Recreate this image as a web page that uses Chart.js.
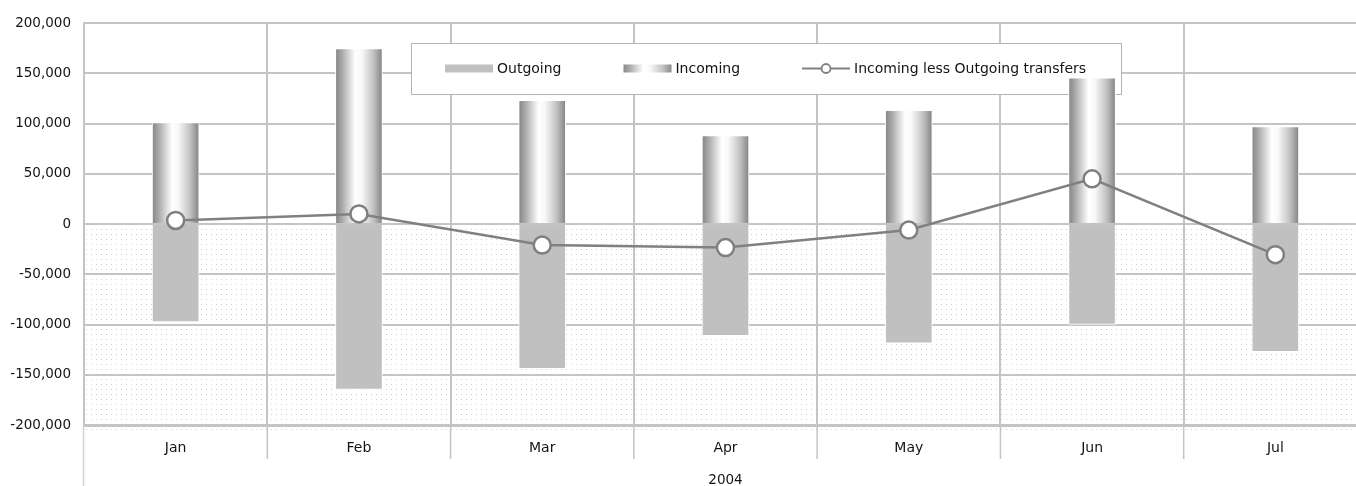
<!DOCTYPE html>
<html>
<head>
<meta charset="utf-8">
<title>Transfers 2004</title>
<script src="https://cdn.jsdelivr.net/npm/chart.js@4/dist/chart.umd.min.js"></script>
<style>
  html, body { margin: 0; padding: 0; background: #ffffff; overflow: hidden; width: 1356px; height: 486px; }
  canvas { display: block; }
</style>
</head>
<body>
<canvas id="chart" width="1378" height="486"></canvas>
<script>
// Monthly transfer figures, 2004
const months = ['Jan', 'Feb', 'Mar', 'Apr', 'May', 'Jun', 'Jul'];
const yearLabel = '2004';
const outgoing = [-97500, -164500, -144000, -111000, -118500, -100000, -127000];
const incoming = [101000, 174500, 123000, 88000, 113000, 145500, 97000];
const netTransfers = [3500, 10000, -21000, -23500, -6000, 45000, -30500];
const yTickValues = [-200000, -150000, -100000, -50000, 0, 50000, 100000, 150000, 200000];

const FONT = 'DejaVu Sans';
const GRID = '#c4c4c4';
const TEXT = '#141414';
const BAR_W = 47;

function cylinderGradient(ctx, x0, x1) {
  const g = ctx.createLinearGradient(x0, 0, x1, 0);
  g.addColorStop(0, '#8a8a8a');
  g.addColorStop(0.12, '#a8a8a8');
  g.addColorStop(0.42, '#ffffff');
  g.addColorStop(0.56, '#f8f8f8');
  g.addColorStop(0.82, '#c2c2c2');
  g.addColorStop(1, '#8a8a8a');
  return g;
}

// Dotted fill for the area below zero
const negativeArea = {
  id: 'negativeArea',
  beforeDraw(chart) {
    const { ctx, chartArea, scales } = chart;
    const zeroY = scales.y.getPixelForValue(0);
    ctx.save();
    ctx.fillStyle = '#d2d2d2';
    for (let y = Math.round(zeroY) + 5; y <= chartArea.bottom + 5; y += 5) {
      for (let x = chartArea.left + 2; x < chartArea.right; x += 5) {
        ctx.fillRect(x, y, 1, 1);
      }
    }
    ctx.restore();
  }
};

// Category separators below the axis and the outer frame of the year band
const axisBands = {
  id: 'axisBands',
  afterDraw(chart) {
    const { ctx, chartArea, scales } = chart;
    const xs = scales.x;
    ctx.save();
    ctx.strokeStyle = GRID;
    ctx.lineWidth = 1.5;
    for (let i = 1; i < months.length; i++) {
      const px = (xs.getPixelForValue(i - 1) + xs.getPixelForValue(i)) / 2;
      ctx.beginPath();
      ctx.moveTo(px, chartArea.bottom);
      ctx.lineTo(px, chartArea.bottom + 34);
      ctx.stroke();
    }
    ctx.strokeStyle = '#d0d0d0';
    ctx.beginPath();
    ctx.moveTo(chartArea.left - 0.5, chartArea.bottom);
    ctx.lineTo(chartArea.left - 0.5, chart.height);
    ctx.stroke();
    ctx.restore();
  }
};

// Framed legend floating over the grid, beneath the bars
const boxedLegend = {
  id: 'boxedLegend',
  beforeDatasetsDraw(chart, args, opts) {
    const { ctx } = chart;
    const { left, top, width, height, swatch, gap, spacing, start } = opts;
    ctx.save();
    ctx.fillStyle = '#ffffff';
    ctx.fillRect(left, top, width, height);
    ctx.strokeStyle = '#b4b4b4';
    ctx.lineWidth = 1;
    ctx.strokeRect(left + 0.5, top + 0.5, width, height);

    const cy = top + height / 2;
    ctx.font = '14px "' + FONT + '"';
    ctx.textBaseline = 'middle';
    ctx.textAlign = 'left';
    let x = start;
    chart.data.datasets.slice().sort((a, b) => a.legendOrder - b.legendOrder).forEach(ds => {
      if (ds.type === 'line') {
        ctx.strokeStyle = ds.borderColor;
        ctx.lineWidth = 2;
        ctx.beginPath();
        ctx.moveTo(x, cy);
        ctx.lineTo(x + swatch, cy);
        ctx.stroke();
        ctx.beginPath();
        ctx.arc(x + swatch / 2, cy, 4.5, 0, Math.PI * 2);
        ctx.fillStyle = '#ffffff';
        ctx.fill();
        ctx.lineWidth = 1.8;
        ctx.stroke();
      } else if (ds.label === 'Incoming') {
        ctx.fillStyle = cylinderGradient(ctx, x, x + swatch);
        ctx.fillRect(x, cy - 4, swatch, 8);
      } else {
        ctx.fillStyle = '#c0c0c0';
        ctx.fillRect(x, cy - 4, swatch, 8);
      }
      const tx = x + swatch + gap;
      ctx.fillStyle = TEXT;
      ctx.fillText(ds.label, tx, cy + 1);
      x = tx + ctx.measureText(ds.label).width + spacing;
    });
    ctx.restore();
  }
};

const chart = new Chart(document.getElementById('chart'), {
  data: {
    labels: months,
    datasets: [
      {
        type: 'line',
        label: 'Incoming less Outgoing transfers',
        legendOrder: 2,
        data: netTransfers,
        borderColor: '#808080',
        borderWidth: 2.5,
        tension: 0,
        pointRadius: 8.5,
        pointBackgroundColor: '#ffffff',
        pointBorderColor: '#7f7f7f',
        pointBorderWidth: 2.5,
        order: 0
      },
      {
        type: 'bar',
        label: 'Incoming',
        legendOrder: 1,
        data: incoming,
        grouped: false,
        barThickness: BAR_W,
        borderWidth: 1,
        borderColor: '#ffffff',
        backgroundColor: (c) => {
          const xs = c.chart.scales.x;
          if (!xs || c.dataIndex === undefined) return '#bbbbbb';
          const cx = xs.getPixelForValue(c.dataIndex);
          if (!Number.isFinite(cx)) return '#bbbbbb';
          return cylinderGradient(c.chart.ctx, cx - BAR_W / 2 + 1, cx + BAR_W / 2 - 1);
        },
        order: 1
      },
      {
        type: 'bar',
        label: 'Outgoing',
        legendOrder: 0,
        data: outgoing,
        grouped: false,
        barThickness: BAR_W,
        borderWidth: 1,
        borderColor: '#ffffff',
        backgroundColor: '#c0c0c0',
        order: 1
      }
    ]
  },
  options: {
    responsive: false,
    devicePixelRatio: 1,
    animation: false,
    events: [],
    layout: { padding: { top: 23, right: 3, left: 0, bottom: 0 } },
    plugins: {
      legend: { display: false },
      tooltip: { enabled: false },
      boxedLegend: { left: 411, top: 43, width: 710, height: 51, swatch: 48, gap: 4, spacing: 62, start: 445 }
    },
    scales: {
      x: {
        type: 'category',
        offset: true,
        afterFit: (s) => { s.height = 61; },
        grid: { display: true, offset: true, color: GRID, lineWidth: 2, drawTicks: false },
        border: { display: true, color: GRID, width: 3 },
        ticks: { color: TEXT, font: { family: FONT, size: 14 }, padding: 15, maxRotation: 0 },
        title: { display: true, text: yearLabel, color: TEXT, font: { family: FONT, size: 13.5, lineHeight: 0.8 }, padding: { top: 0, bottom: 0 } }
      },
      y: {
        min: yTickValues[0],
        max: yTickValues[yTickValues.length - 1],
        afterFit: (s) => { s.width = 84; },
        afterBuildTicks: (s) => { s.ticks = yTickValues.map(v => ({ value: v })); },
        grid: {
          color: GRID,
          lineWidth: (c) => (c.tick && c.tick.value === yTickValues[0] ? 3 : 2),
          drawTicks: false
        },
        border: { display: true, color: GRID, width: 2 },
        ticks: {
          color: TEXT,
          font: { family: FONT, size: 13.5 },
          padding: 13,
          callback: (v) => Number(v).toLocaleString('en-US')
        }
      }
    }
  },
  plugins: [negativeArea, axisBands, boxedLegend]
});
</script>
</body>
</html>
